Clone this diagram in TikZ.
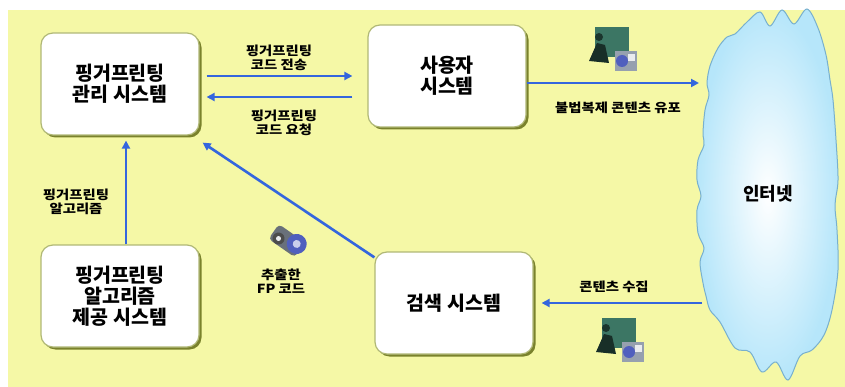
\documentclass[tikz,border=0pt]{standalone}
\usepackage{fontspec}
\setmainfont{Noto Sans CJK KR}
\newfontfamily\boxfont{Noto Sans CJK KR Black}
\newfontfamily\labelfont{Noto Sans CJK KR}[FakeStretch=1.15]
\usetikzlibrary{arrows.meta,shadows}

\definecolor{pad}{RGB}{245,248,166}
\definecolor{boxedge}{RGB}{176,184,118}
\definecolor{boxshade}{RGB}{122,130,44}
\definecolor{flowblue}{RGB}{52,102,222}
\definecolor{skyfill}{RGB}{182,230,250}
\definecolor{skyedge}{RGB}{120,176,206}
\definecolor{iconteal}{RGB}{60,118,100}
\definecolor{icongray}{RGB}{150,160,175}
\definecolor{iconblue}{RGB}{80,95,190}

\begin{document}
\begin{tikzpicture}[x=1pt, y=-1pt,
  sysbox/.style={draw=boxedge, line width=1.2pt, fill=white, rounded corners=12pt,
    minimum width=158pt, minimum height=102pt, align=center,
    font=\boxfont\fontsize{19.5}{21}\selectfont,
    drop shadow={shadow xshift=2.5pt, shadow yshift=-2.5pt, fill=boxshade, opacity=1}},
  flow/.style={draw=flowblue, line width=2.6pt, -{Triangle[length=8pt,width=8pt]}},
  note/.style={align=center, font=\labelfont\fontsize{12.5}{14}\selectfont\bfseries},
  viewer/.pic={
    \fill[iconteal] (-18,-22) rectangle (16,8);
    \fill[iconteal!45!black] (-14,-12) circle (4);
    \fill[iconteal!40!black] (-24,12) -- (-16,-6) -- (-8,-4) -- (-4,14) -- cycle;
    \fill[icongray] (2,2) rectangle (24,22);
    \fill[iconblue] (9,12) circle (6);
    \fill[white!80!icongray] (15,5) rectangle (22,12);
  },
  reel/.pic={
    \fill[icongray!70!black, rounded corners=4pt] (-18,-8) rectangle (14,10);
    \fill[iconblue] (8,-2) circle (10);
    \fill[white!70!iconblue] (8,-2) circle (4);
    \fill[black!70] (-10,4) circle (6);
    \fill[white!80!icongray] (-10,4) circle (2.5);
  }]
  \useasboundingbox (0,0) rectangle (845,387);
  \fill[pad] (8,10) rectangle (845,387);

  % the four systems
  \node[sysbox] (mgmt) at (120,84) {핑거프린팅\\관리 시스템};
  \node[sysbox] (user) at (447,76) {사용자\\시스템};
  \node[sysbox] (algo) at (120,296) {핑거프린팅\\알고리즘\\제공 시스템};
  \node[sysbox] (search) at (454,303) {검색 시스템};

  % internet cloud
  \shade[draw=skyedge, line width=1pt, inner color=white, outer color=skyfill]
    plot[smooth cycle, tension=0.55] coordinates {
      (710,66) (718,48) (727,37) (735,34) (747,22) (760,12) (770,26) (782,10)
      (794,24) (807,9) (818,28) (826,55) (830,80) (833,100) (836,140) (838,180)
      (835,205) (837,230) (838,270) (832,310) (824,335) (812,350) (800,356)
      (788,380) (776,362) (762,372) (750,352) (735,348) (720,322) (710,310)
      (706,296) (703,283) (700,262) (704,248) (698,233) (697,210) (701,196)
      (697,180) (698,160) (704,145) (703,133) (705,110) (709,95) (707,83)};
  \node[font=\fontsize{18}{20}\selectfont\bfseries] (net) at (768,194) {인터넷};
  \coordinate (netwest) at (699,197);

  % flows
  \draw[flow] ([xshift=7pt,yshift=8pt]mgmt.east) -- ([xshift=-15pt]user.west);
  \draw[flow] ([xshift=-15pt,yshift=-21pt]user.west) -- ([xshift=7pt,yshift=-13pt]mgmt.east);
  \draw[flow] ([yshift=-7pt]user.east) -- ([yshift=-7pt]user.east -| netwest);
  \draw[flow] ([xshift=3pt]search.east -| netwest) -- ([xshift=8pt]search.east);
  \draw[flow] ([xshift=6pt]algo.north) -- ([xshift=6pt,yshift=-5pt]mgmt.south);
  \draw[flow] ([yshift=-6pt]search.north west) -- ([xshift=3pt,yshift=-7pt]mgmt.south east);

  % labels
  \node[note] (sendlbl) at (279,58) {핑거프린팅\\코드 전송};
  \node[note] (reqlbl) at (284,123) {핑거프린팅\\코드 요청};
  \node[note] (algolbl) at (76,202) {핑거프린팅\\알고리즘};
  \node[note] (fplbl) at (281,281) {추출한\\FP 코드};
  \node[note] (leaklbl) at (618,108) {불법복제 콘텐츠 유포};
  \node[note] (crawllbl) at (614,287) {콘텐츠 수집};

  % clip-art icons
  \pic at (613,49) {viewer};
  \pic at (620,340) {viewer};
  \pic[rotate=-35] at (289,241) {reel};
\end{tikzpicture}
\end{document}
